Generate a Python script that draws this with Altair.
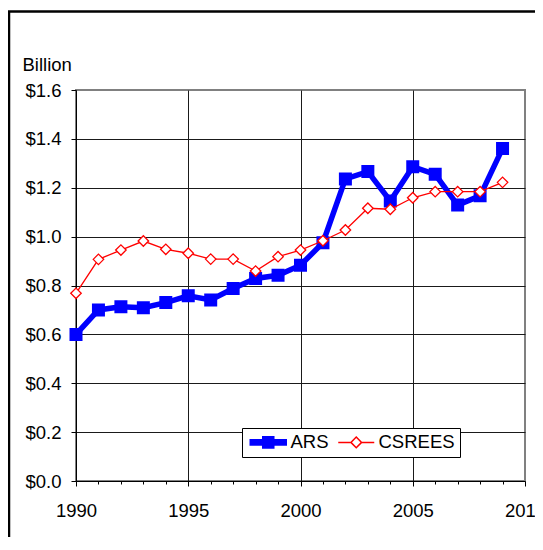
import altair as alt
import pandas as pd

# ---- data ----
years = list(range(1990, 2010))
ars = [0.600, 0.700, 0.713, 0.709, 0.730, 0.758, 0.741, 0.788, 0.829, 0.842,
       0.883, 0.975, 1.236, 1.266, 1.146, 1.286, 1.255, 1.129, 1.167, 1.361]
csrees = [0.768, 0.907, 0.945, 0.982, 0.948, 0.932, 0.908, 0.908, 0.859, 0.918,
          0.945, 0.983, 1.027, 1.116, 1.112, 1.159, 1.184, 1.184, 1.184, 1.222]
series_names = ["ARS", "CSREES"]
x_ticks = list(range(1990, 2011))
y_ticks = [0.0, 0.2, 0.4, 0.6, 0.8, 1.0, 1.2, 1.4, 1.6]

df_ars = pd.DataFrame({"year": years, "value": ars})
df_cs = pd.DataFrame({"year": years, "value": csrees})
df_leg = pd.DataFrame({"series": series_names})
df_frame = pd.DataFrame({"k": [0]})

FONT = "Liberation Sans"
FS = 18.5
BLUE = "#0000FF"
RED = "#FF0000"

x_enc = alt.X(
    "year:Q",
    scale=alt.Scale(domain=[1990, 2010], nice=False, zero=False),
    axis=alt.Axis(
        values=x_ticks,
        format="d",
        labelExpr="datum.value % 5 === 0 ? datum.label : ''",
        labelFlush=False,
        labelOverlap=False,
        tickSize={"condition": {"test": "datum.value % 5 === 0", "value": 5}, "value": 3},
        gridOpacity={"condition": {"test": "datum.value % 5 === 0 && datum.value > 1990 && datum.value < 2010", "value": 1}, "value": 0},
        labelPadding=15,
        title=None,
    ),
)
y_enc = alt.Y(
    "value:Q",
    scale=alt.Scale(domain=[0, 1.6], nice=False, zero=True),
    axis=alt.Axis(
        values=y_ticks,
        labelExpr="'$' + format(datum.value, '.1f')",
        labelFlush=False,
        tickSize=5,
        labelPadding=10,
        title="Billion",
        titleAngle=0,
        titleX=-54,
        titleY=-19.3,
        titleAlign="left",
        titleBaseline="alphabetic",
        gridOpacity={"condition": {"test": "datum.value > 0 && datum.value < 1.59", "value": 1}, "value": 0},
    ),
)

# legend symbols: line + marker
path_ars = "M-1,-0.42L5,-0.42L5,0.42L-1,0.42Z M1.08,-0.92L2.92,-0.92L2.92,0.92L1.08,0.92Z"
path_cs = "M-1,0L1.11,0M2.89,0L5,0M2,-0.89L2.89,0L2,0.89L1.11,0Z"

leg = alt.Legend(
    title=None, orient="none", legendX=166, legendY=338, direction="horizontal",
    symbolSize=144, symbolStrokeWidth=1.5, labelOffset=25, columnPadding=6, padding=5,
    strokeColor="black", fillColor="white", labelFont=FONT, labelFontSize=FS,
    labelColor="black", symbolOpacity=1,
)

frame = alt.Chart(df_frame).mark_rect(filled=False, stroke="black", strokeWidth=2.5).encode(
    x=alt.value(-67), x2=alt.value(600), y=alt.value(-78.5), y2=alt.value(600)
)

legend_layer = alt.Chart(df_leg).transform_filter("false").mark_point(
    filled=True, opacity=1, size=144, strokeWidth=1.5
).encode(
    fill=alt.Fill("series:N", scale=alt.Scale(domain=series_names, range=[BLUE, "#FFFFFF"]), legend=leg),
    stroke=alt.Stroke("series:N", scale=alt.Scale(domain=series_names, range=[BLUE, RED]), legend=leg),
    shape=alt.Shape("series:N", scale=alt.Scale(domain=series_names, range=[path_ars, path_cs]), legend=leg),
)

ars_line = alt.Chart(df_ars).mark_line(color=BLUE, strokeWidth=5.5).encode(x=x_enc, y=y_enc)
ars_pts = alt.Chart(df_ars).mark_point(
    shape="square", filled=True, fill=BLUE, stroke=BLUE, size=121, opacity=1
).encode(x=x_enc, y=y_enc)
cs_line = alt.Chart(df_cs).mark_line(color=RED, strokeWidth=1.3).encode(x=x_enc, y=y_enc)
cs_pts = alt.Chart(df_cs).mark_point(
    shape="diamond", filled=True, fill="white", stroke=RED, strokeWidth=1.3, size=110, opacity=1
).encode(x=x_enc, y=y_enc)

chart = alt.layer(frame, legend_layer, ars_line, ars_pts, cs_line, cs_pts).properties(
    width=449,
    height=391,
    padding={"left": 68, "top": 82, "right": 10, "bottom": 56},
    autosize=alt.AutoSizeParams(type="none"),
    background="white",
).configure_view(
    stroke="#808080", strokeWidth=2
).configure_axis(
    domainColor="black", domainWidth=1, tickColor="black", tickWidth=1,
    gridColor="#1a1a1a", gridWidth=1,
    labelFont=FONT, labelFontSize=FS, labelColor="black",
    titleFont=FONT, titleFontSize=FS, titleFontWeight="normal", titleColor="black",
)

chart.save("out.html", embed_options={"renderer": "svg", "actions": False})
